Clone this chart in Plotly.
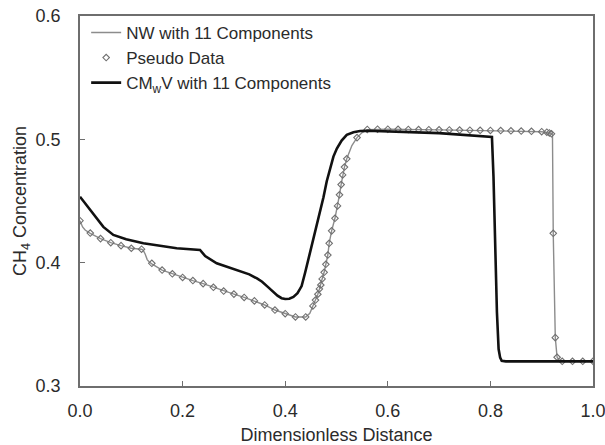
import plotly.graph_objects as go

# ---- data ----
pseudo_x = [0.00, 0.02, 0.04, 0.06, 0.08, 0.10, 0.12, 0.14, 0.16, 0.18, 0.20, 0.22, 0.24,
            0.26, 0.28, 0.30, 0.32, 0.34, 0.36, 0.38, 0.40, 0.42, 0.44,
            0.454, 0.459, 0.4636, 0.4667, 0.4694, 0.472, 0.4759, 0.4792, 0.4831, 0.4857,
            0.4905, 0.497, 0.502, 0.5058, 0.509, 0.512, 0.5155, 0.520, 0.540,
            0.56, 0.58, 0.60, 0.62, 0.64, 0.66, 0.68, 0.70, 0.72, 0.74, 0.76, 0.78,
            0.80, 0.82, 0.84, 0.86, 0.88, 0.90, 0.91, 0.915, 0.919,
            0.9225, 0.9265, 0.930, 0.94, 0.96, 0.98, 1.00]
pseudo_y = [0.434, 0.424, 0.4195, 0.4162, 0.4138, 0.4117, 0.4109, 0.3995, 0.394, 0.391, 0.388, 0.3855, 0.383,
            0.380, 0.377, 0.3745, 0.3718, 0.369, 0.3657, 0.3616, 0.3586, 0.356, 0.356,
            0.3649, 0.3697, 0.3744, 0.3787, 0.3819, 0.3868, 0.3922, 0.3987, 0.4062, 0.4157,
            0.4258, 0.436, 0.446, 0.455, 0.4633, 0.4711, 0.4775, 0.4842, 0.5014,
            0.5080, 0.5082, 0.5082, 0.5081, 0.5080, 0.5079, 0.5078, 0.5077, 0.5076, 0.5075, 0.5074, 0.5073,
            0.5072, 0.5071, 0.5069, 0.5067, 0.5065, 0.5062, 0.5058, 0.5052, 0.5045,
            0.4238, 0.3392, 0.3233, 0.3200, 0.3200, 0.3200, 0.3200]

nw_x = [0.00, 0.005, 0.01, 0.02, 0.04, 0.06, 0.08, 0.10, 0.12, 0.123, 0.127, 0.131, 0.135, 0.14,
        0.16, 0.18, 0.20, 0.22, 0.24, 0.26, 0.28, 0.30, 0.32, 0.34, 0.36, 0.38, 0.40, 0.42,
        0.44, 0.448, 0.454, 0.459, 0.4636, 0.4667, 0.4694, 0.472, 0.4759, 0.4792, 0.4831,
        0.4857, 0.4905, 0.497, 0.502, 0.5058, 0.509, 0.512, 0.5155, 0.520, 0.530, 0.540,
        0.550, 0.56, 0.60, 0.70, 0.80, 0.90, 0.915, 0.919, 0.921, 0.9225, 0.9265, 0.930,
        0.935, 1.00]
nw_y = [0.434, 0.429, 0.4265, 0.4238, 0.4195, 0.4162, 0.4138, 0.4117, 0.4109, 0.4102, 0.4070,
        0.4025, 0.4005, 0.3990, 0.394, 0.391, 0.388, 0.3855, 0.383, 0.380, 0.377, 0.3745,
        0.3718, 0.369, 0.3657, 0.3616, 0.3586, 0.356, 0.356, 0.359, 0.3649, 0.3697, 0.3744,
        0.3787, 0.3819, 0.3868, 0.3922, 0.3987, 0.4062, 0.4157, 0.4258, 0.436, 0.446, 0.455,
        0.4633, 0.4711, 0.4775, 0.4842, 0.4950, 0.5014, 0.5055, 0.5078, 0.5082, 0.5077,
        0.5072, 0.5062, 0.5052, 0.5045, 0.5040, 0.4238, 0.3392, 0.3233, 0.3205, 0.3200]

cmwv_x = [0.00, 0.01, 0.0195, 0.03, 0.0455, 0.065, 0.09, 0.1235, 0.1885, 0.234, 0.238,
          0.244, 0.2665, 0.312, 0.330, 0.345, 0.355, 0.365, 0.375, 0.385, 0.393, 0.400,
          0.408, 0.416, 0.424, 0.432, 0.4389, 0.4453, 0.452, 0.460, 0.468, 0.4746, 0.481,
          0.4876, 0.494, 0.5007, 0.510, 0.520, 0.533, 0.546, 0.560, 0.70, 0.80, 0.803,
          0.806, 0.809, 0.8127, 0.816, 0.819, 0.822, 0.830, 1.00]
cmwv_y = [0.4535, 0.448, 0.4427, 0.437, 0.429, 0.4225, 0.419, 0.4157, 0.4117, 0.4103, 0.408,
          0.4054, 0.3995, 0.3935, 0.3905, 0.3872, 0.3845, 0.3808, 0.3768, 0.3732, 0.3712,
          0.3705, 0.3708, 0.3722, 0.3752, 0.3810, 0.3920, 0.4030, 0.4160, 0.4280, 0.4410,
          0.4530, 0.4660, 0.4770, 0.4860, 0.4925, 0.4990, 0.5036, 0.5058, 0.5068, 0.5070,
          0.5050, 0.5025, 0.5020, 0.4700, 0.4200, 0.3600, 0.3300, 0.3230, 0.3205, 0.3200,
          0.3200]

x_ticks = [0.0, 0.2, 0.4, 0.6, 0.8, 1.0]
y_ticks = [0.3, 0.4, 0.5, 0.6]

FONT = "Arial, Liberation Sans, sans-serif"
TXT = "#2b2b2b"
AX = "#6e6e6e"

fig = go.Figure()
fig.add_trace(go.Scatter(x=nw_x, y=nw_y, mode="lines", name="NW with 11 Components",
                         line=dict(color="#8c8c8c", width=1.4)))
fig.add_trace(go.Scatter(x=pseudo_x, y=pseudo_y, mode="markers", name="Pseudo Data",
                         marker=dict(symbol="diamond-open", size=5, color="#707070",
                                     line=dict(width=1.1, color="#707070"))))
fig.add_trace(go.Scatter(x=cmwv_x, y=cmwv_y, mode="lines",
                         name="CM<sub>w</sub>V with 11 Components",
                         line=dict(color="#111111", width=2.6)))

fig.update_layout(
    width=605, height=445,
    margin=dict(l=80, r=12, t=16, b=59),
    paper_bgcolor="white", plot_bgcolor="white",
    font=dict(family=FONT, size=18, color=TXT),
    showlegend=True,
    legend=dict(x=0.012, y=1.003, xanchor="left", yanchor="top",
                bgcolor="rgba(0,0,0,0)", font=dict(size=17, color=TXT),
                tracegroupgap=0, itemwidth=30),
)
fig.update_xaxes(range=[0, 1], tickvals=x_ticks, ticktext=[f"{v:.1f}" for v in x_ticks],
                 ticks="inside", ticklen=5, tickcolor=AX, tickwidth=1.2,
                 showline=True, linecolor=AX, linewidth=1.5, mirror=True,
                 showgrid=False, zeroline=False, ticklabelstandoff=8,
                 ticklabeloverflow="allow",
                 title=dict(text="Dimensionless Distance", standoff=9,
                            font=dict(size=18, color=TXT)),
                 automargin=False)
fig.update_yaxes(range=[0.3, 0.6], tickvals=y_ticks, ticktext=[f"{v:.1f}" for v in y_ticks],
                 ticks="inside", ticklen=5, tickcolor=AX, tickwidth=1.2,
                 showline=True, linecolor=AX, linewidth=1.5, mirror=True,
                 showgrid=False, zeroline=False, ticklabelstandoff=14,
                 ticklabeloverflow="allow",
                 title=dict(text="CH<sub>4</sub> Concentration", standoff=4,
                            font=dict(size=18, color=TXT)),
                 automargin=False)

fig.write_html("out.html")
